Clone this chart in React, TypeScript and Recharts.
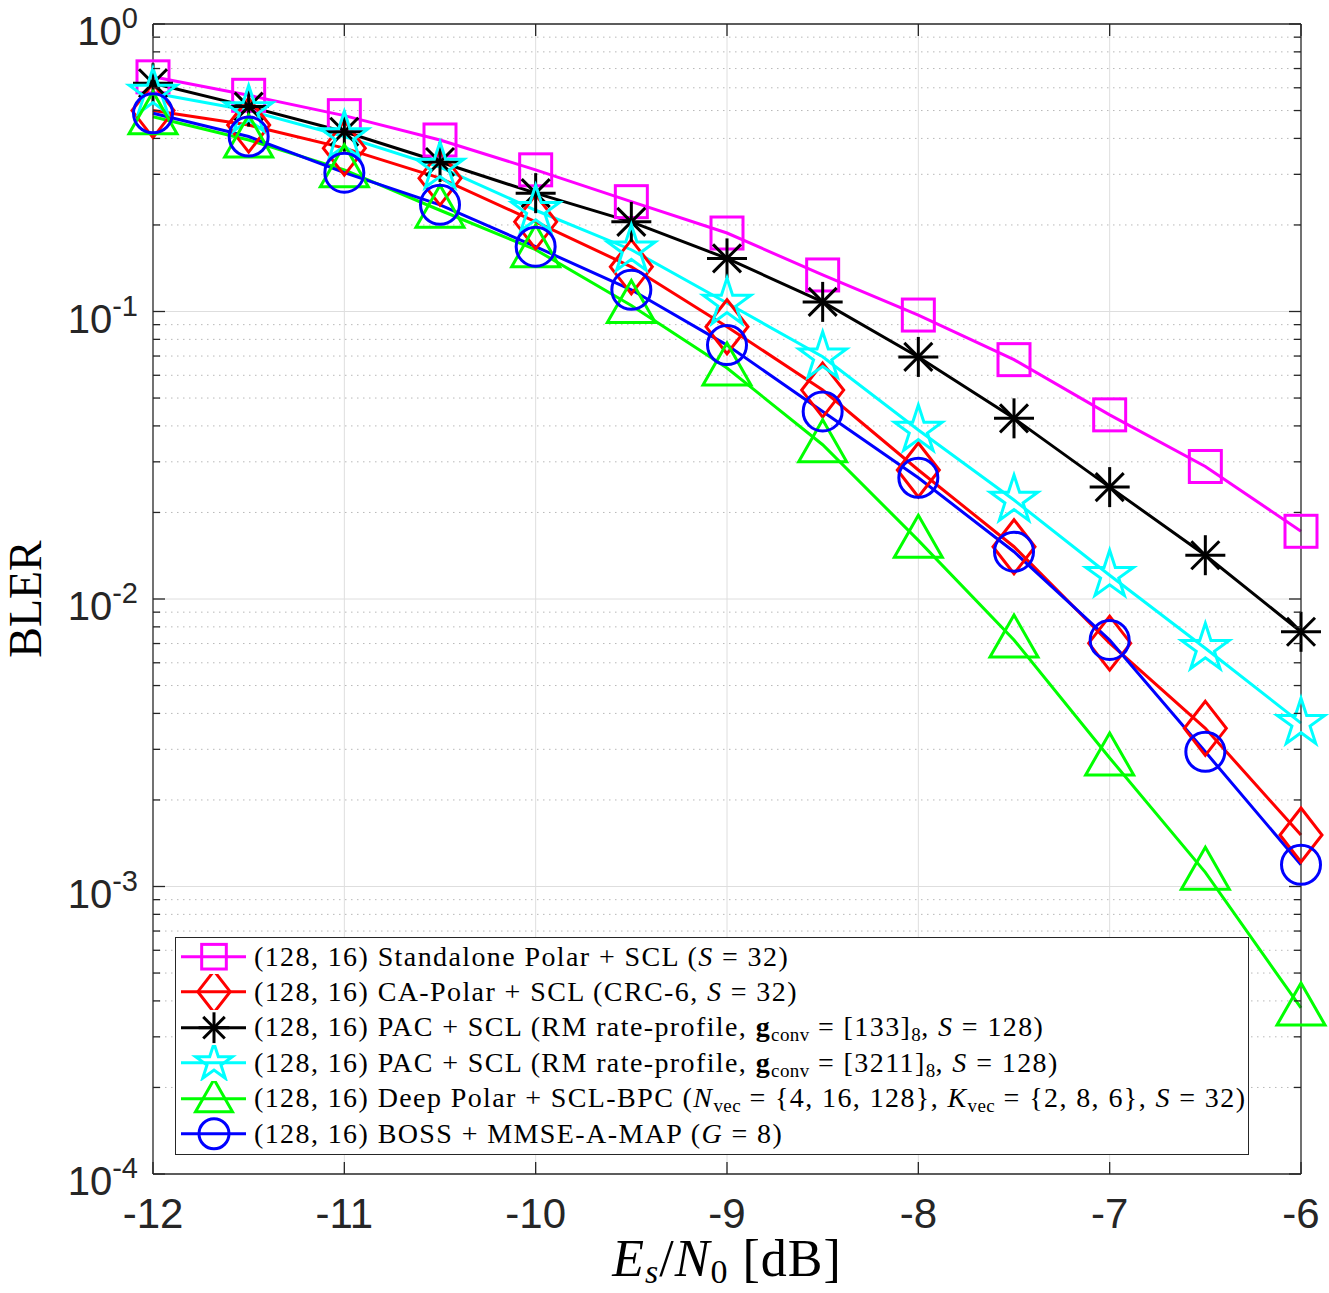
import React from 'react';
import { LineChart, Line, XAxis, YAxis, CartesianGrid, Legend } from 'recharts';

// Es/N0 in dB
const snr = [-12, -11.5, -11, -10.5, -10, -9.5, -9, -8.5, -8, -7.5, -7, -6.5, -6];

// BLER per scheme
const standalone = [0.655, 0.565, 0.48, 0.395, 0.311, 0.241, 0.1875, 0.134, 0.0972, 0.068, 0.0437, 0.0289, 0.0172];
const caPolar = [0.5, 0.445, 0.37, 0.291, 0.205, 0.143, 0.0885, 0.0533, 0.0281, 0.0152, 0.00702, 0.00355, 0.00151];
const pac133 = [0.622, 0.516, 0.422, 0.331, 0.258, 0.205, 0.153, 0.108, 0.0695, 0.0425, 0.0245, 0.0142, 0.00769];
const pac3211 = [0.575, 0.5, 0.406, 0.318, 0.225, 0.164, 0.107, 0.0696, 0.0387, 0.0221, 0.0121, 0.00674, 0.0037];
const deepPolar = [0.476, 0.395, 0.311, 0.225, 0.164, 0.105, 0.0636, 0.0344, 0.016, 0.0072, 0.0028, 0.00112, 0.000378];
const boss = [0.489, 0.406, 0.304, 0.235, 0.168, 0.119, 0.0764, 0.0449, 0.0264, 0.0146, 0.0072, 0.00294, 0.00119];

const xTicks = [-12, -11, -10, -9, -8, -7, -6];
const yDecades = [1e-4, 1e-3, 1e-2, 1e-1, 1];
const minorSteps = [2, 3, 4, 5, 6, 7, 8, 9];
const yMinor = yDecades.slice(0, 4).flatMap(d => minorSteps.map(m => m * d));
const yTicks = [...yDecades, ...yMinor];

const rows = snr.map((x, i) => ({
  snr: x,
  standalone: standalone[i],
  caPolar: caPolar[i],
  pac133: pac133[i],
  pac3211: pac3211[i],
  deepPolar: deepPolar[i],
  boss: boss[i],
}));

type Shape = 'square' | 'diamond' | 'asterisk' | 'star' | 'triangle' | 'circle';

const AXIS = '#262626';
const SERIF = '"Liberation Serif", "Times New Roman", serif';
const SANS = '"Liberation Sans", Arial, Helvetica, sans-serif';

function Marker({ shape, cx, cy, color, s = 1 }: { shape: Shape; cx: number; cy: number; color: string; s?: number }) {
  const sw = 3;
  const common = { fill: 'none', stroke: color, strokeWidth: sw };
  if (cx == null || cy == null) return null;
  switch (shape) {
    case 'square': {
      const h = 16 * s;
      return <rect x={cx - h} y={cy - h} width={2 * h} height={2 * h} {...common} />;
    }
    case 'diamond': {
      const w = 21 * s, h = 27 * s;
      return <polygon points={`${cx},${cy - h} ${cx + w},${cy} ${cx},${cy + h} ${cx - w},${cy}`} {...common} />;
    }
    case 'asterisk': {
      const a = 20 * s, d = 14 * s;
      return (
        <g stroke={color} strokeWidth={sw}>
          <line x1={cx - a} y1={cy} x2={cx + a} y2={cy} />
          <line x1={cx} y1={cy - a} x2={cx} y2={cy + a} />
          <line x1={cx - d} y1={cy - d} x2={cx + d} y2={cy + d} />
          <line x1={cx - d} y1={cy + d} x2={cx + d} y2={cy - d} />
        </g>
      );
    }
    case 'star': {
      const R = 25 * s, r = R * 0.382;
      const pts: string[] = [];
      for (let k = 0; k < 10; k++) {
        const ang = (-90 + k * 36) * Math.PI / 180;
        const rad = k % 2 === 0 ? R : r;
        pts.push(`${cx + rad * Math.cos(ang)},${cy + rad * Math.sin(ang)}`);
      }
      return <polygon points={pts.join(' ')} {...common} />;
    }
    case 'triangle': {
      const w = 24 * s, top = 25 * s, bot = 17 * s;
      return <polygon points={`${cx},${cy - top} ${cx + w},${cy + bot} ${cx - w},${cy + bot}`} {...common} />;
    }
    case 'circle':
    default:
      return <circle cx={cx} cy={cy} r={19.5 * s} {...common} />;
  }
}

function Sub({ children }: { children: React.ReactNode }) {
  return (
    <span style={{ fontSize: 19, verticalAlign: -5, lineHeight: 0, fontWeight: 'normal', fontStyle: 'normal', letterSpacing: 0.4 }}>
      {children}
    </span>
  );
}

const series: { key: string; color: string; shape: Shape; label: React.ReactNode }[] = [
  { key: 'standalone', color: '#ff00ff', shape: 'square', label: <>(128, 16) Standalone Polar + SCL (<i>S</i> = 32)</> },
  { key: 'caPolar', color: '#ff0000', shape: 'diamond', label: <>(128, 16) CA-Polar + SCL (CRC-6, <i>S</i> = 32)</> },
  {
    key: 'pac133', color: '#000000', shape: 'asterisk',
    label: <>(128, 16) PAC + SCL (RM rate-profile, <b>g</b><Sub>conv</Sub> = [133]<Sub>8</Sub>, <i>S</i> = 128)</>,
  },
  {
    key: 'pac3211', color: '#00ffff', shape: 'star',
    label: <>(128, 16) PAC + SCL (RM rate-profile, <b>g</b><Sub>conv</Sub> = [3211]<Sub>8</Sub>, <i>S</i> = 128)</>,
  },
  {
    key: 'deepPolar', color: '#00ff00', shape: 'triangle',
    label: <>(128, 16) Deep Polar + SCL-BPC (<i>N</i><Sub>vec</Sub> = {'{'}4, 16, 128{'}'}, <i>K</i><Sub>vec</Sub> = {'{'}2, 8, 6{'}'}, <i>S</i> = 32)</>,
  },
  { key: 'boss', color: '#0000ff', shape: 'circle', label: <>(128, 16) BOSS + MMSE-A-MAP (<i>G</i> = 8)</> },
];

const isDecade = (v: number) => Math.abs(Math.log10(v) - Math.round(Math.log10(v))) < 1e-6;

const LeftTick = (props: any) => {
  const { x, y, payload } = props;
  const v = payload.value as number;
  const major = isDecade(v);
  const exp = Math.round(Math.log10(v));
  return (
    <g>
      <line x1={x} x2={x + (major ? 12 : 7)} y1={y} y2={y} stroke={AXIS} strokeWidth={1.3} />
      {major && (
        <text x={x - 15} y={y + 21} textAnchor="end" fontFamily={SANS} fontSize={40} fill={AXIS}>
          10<tspan dy={-17} fontSize={29}>{exp}</tspan>
        </text>
      )}
    </g>
  );
};

const RightTick = (props: any) => {
  const { x, y, payload } = props;
  const major = isDecade(payload.value);
  return <line x1={x - (major ? 12 : 7)} x2={x} y1={y} y2={y} stroke={AXIS} strokeWidth={1.3} />;
};

const BottomTick = (props: any) => {
  const { x, y, payload } = props;
  return (
    <g>
      <line x1={x} x2={x} y1={y} y2={y - 12} stroke={AXIS} strokeWidth={1.3} />
      <text x={x} y={y + 54} textAnchor="middle" fontFamily={SANS} fontSize={42} fill={AXIS}>
        {payload.value}
      </text>
    </g>
  );
};

const TopTick = (props: any) => {
  const { x, y } = props;
  return <line x1={x} x2={x} y1={y} y2={y + 12} stroke={AXIS} strokeWidth={1.3} />;
};

const LegendBox = () => (
  <div
    style={{
      width: 1074,
      height: 218,
      boxSizing: 'border-box',
      border: `1.3px solid ${AXIS}`,
      background: '#fff',
      paddingTop: 1,
      fontFamily: SERIF,
      fontSize: 28,
      letterSpacing: 1.4,
      color: '#000',
    }}
  >
    {series.map(s => (
      <div key={s.key} style={{ height: 35.4, display: 'flex', alignItems: 'center', whiteSpace: 'nowrap' }}>
        <svg width={78} height={35.4} style={{ flex: 'none' }}>
          <line x1={5} x2={70} y1={17.7} y2={17.7} stroke={s.color} strokeWidth={3} />
          <Marker shape={s.shape} cx={38} cy={17.7} color={s.color} s={0.77} />
        </svg>
        <span>{s.label}</span>
      </div>
    ))}
  </div>
);

export default function App() {
  return (
    <div style={{ position: 'absolute', left: 0, top: 0, background: '#fff' }}>
      <LineChart width={1329} height={1293} data={rows} margin={{ top: 23, right: 27, bottom: 0, left: 0 }}>
        <CartesianGrid horizontalValues={yMinor} vertical={false} stroke="#b8b8b8" strokeDasharray="1.5 4.5" strokeWidth={1} />
        <CartesianGrid horizontalValues={[1e-3, 1e-2, 1e-1]} verticalValues={xTicks.slice(1, -1)} stroke="#dedede" strokeWidth={1} />
        <XAxis
          dataKey="snr"
          type="number"
          domain={[-12, -6]}
          ticks={xTicks}
          height={119}
          tickSize={0}
          tickMargin={0}
          tickLine={false}
          axisLine={{ stroke: AXIS, strokeWidth: 1.3 }}
          tick={<BottomTick />}
          interval={0}
        />
        <XAxis
          xAxisId="top"
          orientation="top"
          dataKey="snr"
          type="number"
          domain={[-12, -6]}
          ticks={xTicks}
          height={1}
          tickSize={0}
          tickMargin={0}
          tickLine={false}
          axisLine={{ stroke: AXIS, strokeWidth: 1.3 }}
          tick={<TopTick />}
          interval={0}
        />
        <YAxis
          type="number"
          scale="log"
          domain={[1e-4, 1]}
          allowDataOverflow
          ticks={yTicks}
          width={153}
          tickSize={0}
          tickMargin={0}
          tickLine={false}
          axisLine={{ stroke: AXIS, strokeWidth: 1.3 }}
          tick={<LeftTick />}
          interval={0}
        />
        <YAxis
          yAxisId="right"
          orientation="right"
          type="number"
          scale="log"
          domain={[1e-4, 1]}
          allowDataOverflow
          ticks={yTicks}
          width={1}
          tickSize={0}
          tickMargin={0}
          tickLine={false}
          axisLine={{ stroke: AXIS, strokeWidth: 1.3 }}
          tick={<RightTick />}
          interval={0}
        />
        {series.map(s => (
          <Line
            key={s.key}
            type="linear"
            dataKey={s.key}
            stroke={s.color}
            strokeWidth={3}
            isAnimationActive={false}
            dot={(p: any) => <Marker key={`${s.key}-${p.index}`} shape={s.shape} cx={p.cx} cy={p.cy} color={s.color} />}
            activeDot={false}
          />
        ))}
        <Legend
          layout="vertical"
          align="center"
          verticalAlign="middle"
          wrapperStyle={{ left: 175, top: 937, width: 1074, height: 218 }}
          content={() => <LegendBox />}
        />
        <text x={41} y={599} transform="rotate(-90 41 599)" textAnchor="middle" fontFamily={SERIF} fontSize={46} fill="#000">
          BLER
        </text>
        <text x={727} y={1276} textAnchor="middle" fontFamily={SERIF} fontSize={52} letterSpacing={1} fill="#000">
          <tspan fontStyle="italic">E</tspan>
          <tspan fontStyle="italic" fontSize={34} dy={7}>s</tspan>
          <tspan dy={-7}>/</tspan>
          <tspan fontStyle="italic">N</tspan>
          <tspan fontSize={34} dy={7}>0</tspan>
          <tspan dy={-7}> [dB]</tspan>
        </text>
      </LineChart>
    </div>
  );
}
